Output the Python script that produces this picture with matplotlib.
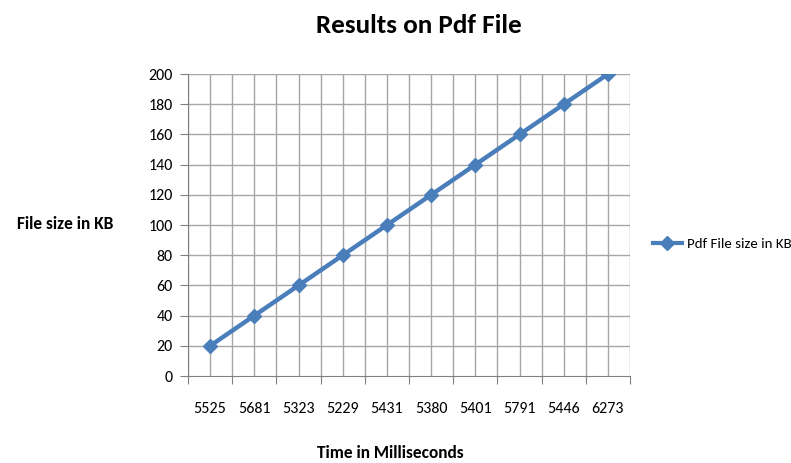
import matplotlib
matplotlib.use('Agg')
import matplotlib.pyplot as plt
from matplotlib.lines import Line2D
import numpy as np

# data
time_ms = ['5525', '5681', '5323', '5229', '5431', '5380', '5401', '5791', '5446', '6273']
size_kb = [20, 40, 60, 80, 100, 120, 140, 160, 180, 200]

line_color = '#4a7ebb'
grid_color = '#a6a6a6'
font = ['Carlito', 'DejaVu Sans']

fig = plt.figure(figsize=(7.91, 4.63), dpi=100)
ax = fig.add_axes([0.2377, 0.1879, 0.5588, 0.6521])

x = np.arange(len(time_ms))
ax.plot(x, size_kb, color=line_color, linewidth=3.2, marker='D', markersize=7,
        markeredgecolor=line_color, markerfacecolor=line_color)

ax.set_xlim(-0.5, len(time_ms) - 0.5)
ax.set_ylim(0, 200)
ax.set_yticks(np.arange(0, 201, 20))

# gridlines at both category centres and boundaries, like the excel chart
for gx in np.arange(-0.5, len(time_ms), 0.5):
    ax.axvline(gx, color=grid_color, linewidth=1, zorder=0)
for gy in np.arange(20, 201, 20):
    ax.axhline(gy, color=grid_color, linewidth=1, zorder=0)

ax.set_xticks(np.arange(-0.5, len(time_ms), 1.0))
ax.set_xticklabels([])
ax.set_xticks(x, minor=True)
ax.set_xticklabels(time_ms, minor=True, fontsize=11.5, family=font)
ax.tick_params(axis='x', which='major', length=6, color='#808080', direction='out')
ax.tick_params(axis='x', which='minor', length=0, pad=19)
ax.tick_params(axis='y', length=6, color='#808080', labelsize=11.5, pad=5)
for lbl in ax.get_yticklabels():
    lbl.set_family(font)

for side in ['top', 'right']:
    ax.spines[side].set_visible(False)
for side in ['left', 'bottom']:
    ax.spines[side].set_color('#808080')

fig.text(0.530, 0.946, 'Results on Pdf File', ha='center', va='center',
         fontsize=19.5, fontweight='bold', family=font)
fig.text(0.494, 0.022, 'Time in Milliseconds', ha='center', va='center',
         fontsize=12.5, fontweight='bold', family=font)
fig.text(0.082, 0.516, 'File size in KB', ha='center', va='center',
         fontsize=12.5, fontweight='bold', family=font)

handle = Line2D([], [], color=line_color, linewidth=3, marker='D', markersize=7)
fig.legend([handle], ['Pdf File size in KB'], loc='center left',
           bbox_to_anchor=(0.825, 0.473), frameon=False, handlelength=2,
           handletextpad=0.3, borderpad=0, borderaxespad=0,
           prop={'family': font, 'size': 10.7})

fig.savefig('out.png', dpi=100)
